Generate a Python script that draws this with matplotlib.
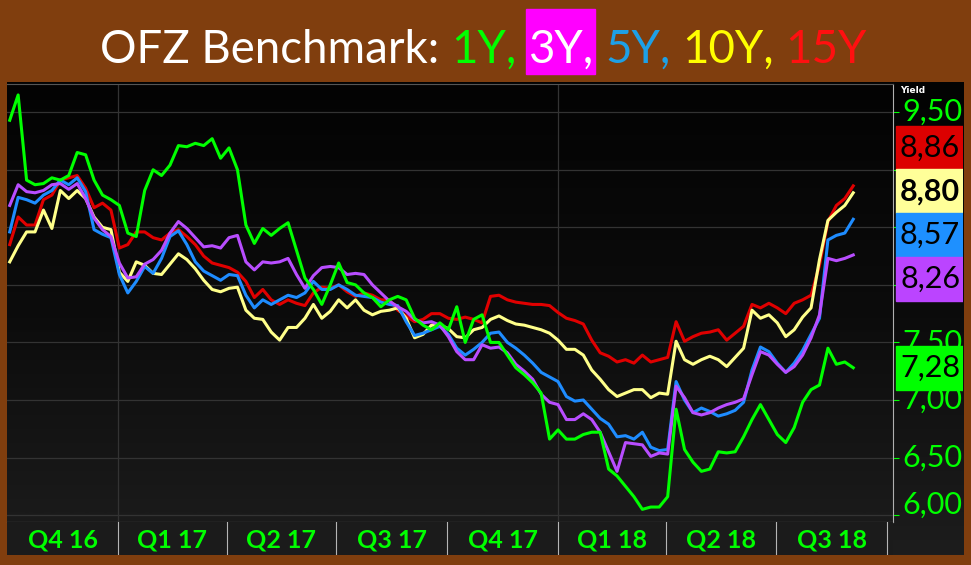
import numpy as np
import pandas as pd
import matplotlib
matplotlib.use('Agg')
import matplotlib.pyplot as plt
from matplotlib.colors import LinearSegmentedColormap
from matplotlib.patches import Rectangle
import matplotlib.dates as mdates

# weekly yields (Oct 2016 - Sep 2018)
dates = pd.date_range('2016-10-03', periods=101, freq='7D')

ofz_1y = [9.43, 9.65, 8.91, 8.87, 8.88, 8.93, 8.91, 8.95, 9.15, 9.13,
          8.91, 8.78, 8.74, 8.69, 8.45, 8.42, 8.82, 9.00, 8.95, 9.04,
          9.21, 9.20, 9.23, 9.21, 9.27, 9.10, 9.19, 9.00, 8.52, 8.36,
          8.49, 8.43, 8.49, 8.54, 8.30, 8.06, 7.96, 7.83, 8.00, 8.19,
          8.02, 8.00, 7.93, 7.89, 7.81, 7.87, 7.90, 7.87, 7.71, 7.65,
          7.61, 7.67, 7.61, 7.81, 7.50, 7.70, 7.74, 7.50, 7.50, 7.39,
          7.28, 7.22, 7.15, 7.06, 6.66, 6.74, 6.66, 6.66, 6.70, 6.72,
          6.72, 6.40, 6.34, 6.25, 6.16, 6.05, 6.07, 6.07, 6.16, 6.92,
          6.57, 6.46, 6.38, 6.40, 6.55, 6.54, 6.55, 6.68, 6.83, 6.96,
          6.83, 6.70, 6.63, 6.76, 6.98, 7.09, 7.13, 7.45, 7.31, 7.33, 7.28]

ofz_3y = [8.69, 8.87, 8.81, 8.80, 8.82, 8.87, 8.88, 8.83, 8.88, 8.75,
          8.58, 8.48, 8.42, 8.19, 8.06, 8.07, 8.18, 8.22, 8.30, 8.45,
          8.55, 8.49, 8.41, 8.33, 8.34, 8.32, 8.41, 8.43, 8.20, 8.13,
          8.20, 8.19, 8.20, 8.23, 8.09, 7.97, 8.08, 8.15, 8.16, 8.15,
          8.09, 8.10, 8.09, 8.00, 7.93, 7.86, 7.81, 7.77, 7.70, 7.67,
          7.68, 7.65, 7.55, 7.42, 7.35, 7.35, 7.48, 7.45, 7.46, 7.41,
          7.31, 7.25, 7.18, 7.05, 6.98, 6.96, 6.83, 6.83, 6.88, 6.83,
          6.72, 6.55, 6.38, 6.63, 6.62, 6.61, 6.51, 6.54, 6.53, 7.12,
          7.02, 6.89, 6.87, 6.89, 6.93, 6.96, 6.98, 7.01, 7.22, 7.42,
          7.39, 7.31, 7.24, 7.29, 7.39, 7.54, 7.74, 8.23, 8.21, 8.23, 8.26]

ofz_5y = [8.46, 8.76, 8.74, 8.71, 8.78, 8.82, 8.91, 8.87, 8.93, 8.81,
          8.48, 8.44, 8.41, 8.09, 7.93, 8.03, 8.16, 8.10, 8.23, 8.42,
          8.47, 8.35, 8.20, 8.12, 8.08, 8.04, 8.09, 8.08, 7.91, 7.80,
          7.87, 7.83, 7.87, 7.91, 7.89, 7.93, 8.03, 7.96, 7.96, 8.00,
          7.96, 7.91, 7.90, 7.89, 7.85, 7.83, 7.82, 7.68, 7.56, 7.58,
          7.61, 7.64, 7.57, 7.45, 7.39, 7.44, 7.50, 7.58, 7.59, 7.50,
          7.45, 7.39, 7.32, 7.24, 7.20, 7.16, 7.03, 6.99, 7.00, 6.92,
          6.84, 6.79, 6.68, 6.69, 6.66, 6.72, 6.59, 6.56, 6.57, 7.16,
          7.00, 6.89, 6.93, 6.90, 6.86, 6.88, 6.91, 6.98, 7.26, 7.46,
          7.42, 7.32, 7.24, 7.32, 7.43, 7.57, 7.71, 8.39, 8.43, 8.45, 8.57]

ofz_10y = [8.20, 8.34, 8.46, 8.46, 8.65, 8.49, 8.82, 8.75, 8.82, 8.75,
           8.59, 8.50, 8.48, 8.11, 8.03, 8.20, 8.17, 8.10, 8.09, 8.18,
           8.27, 8.22, 8.14, 8.04, 7.96, 7.94, 7.97, 7.98, 7.78, 7.71,
           7.70, 7.59, 7.52, 7.63, 7.63, 7.71, 7.83, 7.71, 7.77, 7.87,
           7.80, 7.87, 7.78, 7.74, 7.77, 7.78, 7.80, 7.71, 7.54, 7.57,
           7.65, 7.65, 7.62, 7.55, 7.54, 7.61, 7.63, 7.70, 7.73, 7.69,
           7.66, 7.65, 7.63, 7.61, 7.58, 7.52, 7.44, 7.44, 7.39, 7.26,
           7.18, 7.09, 7.03, 7.06, 7.09, 7.09, 7.02, 7.06, 7.05, 7.51,
           7.35, 7.31, 7.35, 7.38, 7.35, 7.29, 7.37, 7.45, 7.78, 7.71,
           7.74, 7.67, 7.55, 7.61, 7.72, 7.80, 8.22, 8.56, 8.63, 8.69, 8.80]

ofz_15y = [8.35, 8.59, 8.52, 8.52, 8.74, 8.78, 8.91, 8.93, 8.95, 8.84,
           8.67, 8.71, 8.65, 8.32, 8.35, 8.46, 8.46, 8.41, 8.39, 8.45,
           8.48, 8.42, 8.35, 8.25, 8.19, 8.17, 8.15, 8.11, 8.03, 7.89,
           7.96, 7.87, 7.83, 7.87, 7.84, 7.82, 7.93, 7.98, 7.97, 8.00,
           7.94, 7.90, 7.93, 7.91, 7.87, 7.87, 7.78, 7.73, 7.68, 7.70,
           7.75, 7.75, 7.71, 7.70, 7.72, 7.70, 7.67, 7.90, 7.91, 7.87,
           7.85, 7.84, 7.83, 7.83, 7.82, 7.76, 7.71, 7.69, 7.66, 7.52,
           7.41, 7.38, 7.33, 7.35, 7.32, 7.39, 7.33, 7.35, 7.37, 7.68,
           7.51, 7.55, 7.58, 7.59, 7.61, 7.52, 7.58, 7.64, 7.83, 7.80,
           7.84, 7.80, 7.75, 7.84, 7.87, 7.91, 8.17, 8.55, 8.69, 8.75, 8.86]

quarter_labels = ['Q4 16', 'Q1 17', 'Q2 17', 'Q3 17', 'Q4 17', 'Q1 18', 'Q2 18', 'Q3 18']
quarter_edges = pd.to_datetime(['2016-10-01', '2017-01-01', '2017-04-01', '2017-07-01', '2017-10-01',
                                '2018-01-01', '2018-04-01', '2018-07-01', '2018-10-01'])
year_lines = pd.to_datetime(['2017-01-01', '2018-01-01'])
yticks = [6.0, 6.5, 7.0, 7.5, 8.0, 8.5, 9.0, 9.5]

series = {'15Y': ofz_15y, '10Y': ofz_10y, '5Y': ofz_5y, '3Y': ofz_3y, '1Y': ofz_1y}
line_colors = {'15Y': '#e00000', '10Y': '#ffff8a', '5Y': '#1e8cff', '3Y': '#b84dff', '1Y': '#00ff00'}
box_colors = {'15Y': '#dc0000', '10Y': '#ffff99', '5Y': '#1e90ff', '3Y': '#bb44ff', '1Y': '#00ff00'}

plt.rcParams['font.family'] = ['Lato', 'DejaVu Sans']

W, H = 971, 565
BROWN = '#803e0e'
GREEN = '#00ff00'
fig = plt.figure(figsize=(W / 100, H / 100), dpi=100, facecolor=BROWN)


def box(x0, y0, x1, y1):
    # pixel box (top-left origin) -> figure fraction rect
    return [x0 / W, 1 - y1 / H, (x1 - x0) / W, (y1 - y0) / H]


# dark gradient panel behind everything
bg = fig.add_axes(box(7, 82, 963, 555))
grad = np.linspace(0, 1, 256).reshape(-1, 1)
bg.imshow(grad, aspect='auto', extent=[0, 1, 0, 1],
          cmap=LinearSegmentedColormap.from_list('bg', ['#030303', '#0c0c0c', '#1d1d1d']))
bg.set_axis_off()

xmin, xmax = pd.Timestamp('2016-09-30 18:00'), pd.Timestamp('2018-10-06')
ymin, ymax = 5.94, 9.745

ax = fig.add_axes(box(7, 84, 893, 522))
ax.set_facecolor('none')
for name, vals in series.items():
    ax.plot(dates, vals, color=line_colors[name], lw=2.2, solid_joinstyle='round')
ax.set_xlim(xmin, xmax)
ax.set_ylim(ymin, ymax)
ax.set_yticks(yticks)
ax.set_xticks(year_lines)
ax.xaxis.set_minor_locator(mdates.WeekdayLocator(byweekday=mdates.MO, interval=2))
ax.grid(True, which='major', color='#333333', lw=0.9)
ax.yaxis.tick_right()
ax.tick_params(axis='y', colors=GREEN, length=4, width=0.8, labelright=False, labelleft=False)
ax.tick_params(axis='x', which='major', length=0, labelbottom=False)
ax.tick_params(axis='x', which='minor', length=3, width=0.6, color='#8a8a8a')
ax.spines['left'].set_visible(False)
ax.spines['top'].set_color('#555555')
ax.spines['right'].set_color('#b0b0b0')
ax.spines['bottom'].set_color('#9a9a9a')
for s in ax.spines.values():
    s.set_linewidth(0.8)

# quarter band along the bottom
bax = fig.add_axes(box(7, 522, 893, 555))
bax.set_facecolor('#1b1b1b')
bax.set_xlim(xmin, xmax)
bax.set_ylim(0, 1)
for d in quarter_edges[1:]:
    bax.axvline(d, color='#b5b5b5', lw=0.8)
for i, lab in enumerate(quarter_labels):
    a = max(quarter_edges[i], xmin)
    b = min(quarter_edges[i + 1], xmax)
    bax.text(a + (b - a) / 2, 0.45, lab, color=GREEN, fontsize=18, fontweight='bold',
             ha='center', va='center')
bax.set_xticks([])
bax.set_yticks([])
for s in bax.spines.values():
    s.set_visible(False)

# right-hand yield column
rax = fig.add_axes(box(893, 84, 963, 522))
rax.set_facecolor('none')
rax.set_xlim(0, 1)
rax.set_ylim(ymin, ymax)
rax.set_axis_off()
rax.text(0.1, 1 - 6 / 438, 'Yield', transform=rax.transAxes, color='white', fontsize=6.5,
         fontweight='bold', ha='left', va='center', family=['DejaVu Sans'])

# last-value boxes, overlapping ones stacked around their mean
box_h = 0.38
last = sorted([(n, v[-1]) for n, v in series.items()], key=lambda p: -p[1])
groups = [[p] for p in last]
merged = True
while merged:
    merged = False
    for i in range(len(groups) - 1):
        a, b = groups[i], groups[i + 1]
        ca = np.mean([v for _, v in a])
        cb = np.mean([v for _, v in b])
        if ca - len(a) * box_h / 2 < cb + len(b) * box_h / 2:
            groups[i] = a + b
            del groups[i + 1]
            merged = True
            break
box_spans = []
for g in groups:
    c = np.mean([v for _, v in g])
    for k, (n, v) in enumerate(g):
        yc = c + (len(g) - 1) / 2 * box_h - k * box_h
        box_spans.append((yc - box_h / 2, yc + box_h / 2))
        rax.add_patch(Rectangle((0.04, yc - box_h / 2), 0.96, box_h, color=box_colors[n], zorder=3))
        rax.text(0.53, yc, f'{v:.2f}'.replace('.', ','), color='black', fontsize=22,
                 fontweight='bold' if n == '10Y' else 'normal', ha='center', va='center', zorder=4)

# axis labels; the ones sitting under a value box are hidden, as in the terminal
for t in yticks:
    if any(lo <= t <= hi for lo, hi in box_spans):
        continue
    lab = f'{t:.2f}'.replace('.', ',')
    if t - 0.14 < ymin:
        rax.text(0.13, ymin + 0.03, lab, color=GREEN, fontsize=22, ha='left', va='bottom', zorder=2)
    else:
        rax.text(0.13, t, lab, color=GREEN, fontsize=22, ha='left', va='center', zorder=2)

# title, built from coloured pieces
pieces = [('OFZ Benchmark:', 'white'), ('1Y,', '#00ff00'), ('3Y,', 'white'),
          ('5Y,', '#1ea0e6'), ('10Y,', '#ffff00'), ('15Y', '#ff1010')]
title_w = 765
base_y = 1 - 63 / H
fig.canvas.draw()
r = fig.canvas.get_renderer()


def layout(size):
    p1 = fig.text(0, 0, 'O O', fontsize=size)
    p2 = fig.text(0, 0, 'OO', fontsize=size)
    gap = p1.get_window_extent(r).width - p2.get_window_extent(r).width
    p1.remove()
    p2.remove()
    ts = [fig.text(0, base_y, s, color=c, fontsize=size, ha='left', va='baseline', zorder=5)
          for s, c in pieces]
    ws = [t.get_window_extent(r).width for t in ts]
    return ts, ws, gap


texts, widths, gap = layout(36)
total = sum(widths) + gap * (len(texts) - 1)
for t in texts:
    t.remove()
texts, widths, gap = layout(36 * title_w / total)
x = (W - sum(widths) - gap * (len(texts) - 1)) / 2 - 2
for t, w in zip(texts, widths):
    t.set_x(x / W)
    x += w + gap
ext = texts[2].get_window_extent(r)
fig.add_artist(Rectangle(((ext.x0 - 2) / W, 1 - 74 / H), (ext.width + 4) / W, 65 / H,
                         transform=fig.transFigure, color='#ff00ff', zorder=1))

fig.savefig('out.png', dpi=100, facecolor=BROWN)
